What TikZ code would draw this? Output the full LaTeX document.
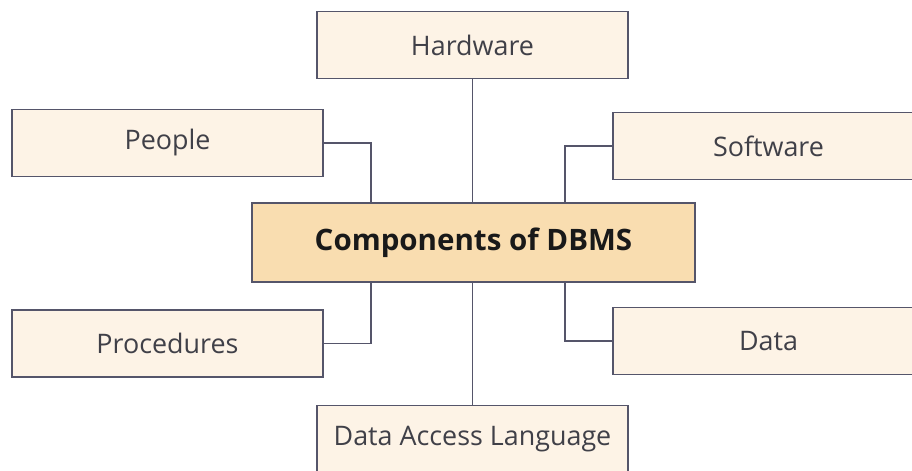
\documentclass[tikz,border=0pt]{standalone}
\usepackage{fontspec}
\setmainfont{Open Sans}
\definecolor{boxfill}{HTML}{FDF3E6}
\definecolor{mainfill}{HTML}{F9DDB0}
\definecolor{boxline}{HTML}{55556A}
\definecolor{boxtext}{HTML}{404048}
\tikzset{
  part/.style={draw=boxline, line width=1.1pt, fill=boxfill, text=boxtext,
    minimum width=311*0.02cm, minimum height=67*0.02cm, inner sep=0pt,
    font=\fontsize{15.3}{18}\selectfont},
  core/.style={draw=boxline, line width=1.1pt, fill=mainfill, text=black!90,
    minimum width=443*0.02cm, minimum height=79*0.02cm, inner sep=0pt,
    font=\fontsize{16.8}{20}\selectfont\bfseries},
  link/.style={draw=boxline, line width=1pt}
}
\begin{document}
\begin{tikzpicture}[x=0.02cm, y=-0.02cm]

\useasboundingbox (0,0) rectangle (912,470);
\clip (0,0) rectangle (912,470);

% centre
\node[core] (dbms) at (473.5,242.5) {Components of DBMS};

% top and bottom
\node[part] (hw) at (472.5,45) {Hardware};
\node[part] (dal) at (472.5,439) {Data Access Language};

% left side
\node[part] (people) at (167.5,143) {People};
\node[part] (proc) at (167.5,343.5) {Procedures};

% right side
\node[part] (sw) at (768.5,146) {Software};
\node[part] (data) at (768.5,341) {Data};

% connectors
\draw[link] (hw) -- (hw |- dbms.north);
\draw[link] (dbms.south -| dal) -- (dal);
\draw[link] (people.east) -| ([xshift=-2.05cm]dbms.north);
\draw[link] (proc.east) -| ([xshift=-2.05cm]dbms.south);
\draw[link] (sw.west) -| ([xshift=1.83cm]dbms.north);
\draw[link] (data.west) -| ([xshift=1.83cm]dbms.south);

\end{tikzpicture}
\end{document}
